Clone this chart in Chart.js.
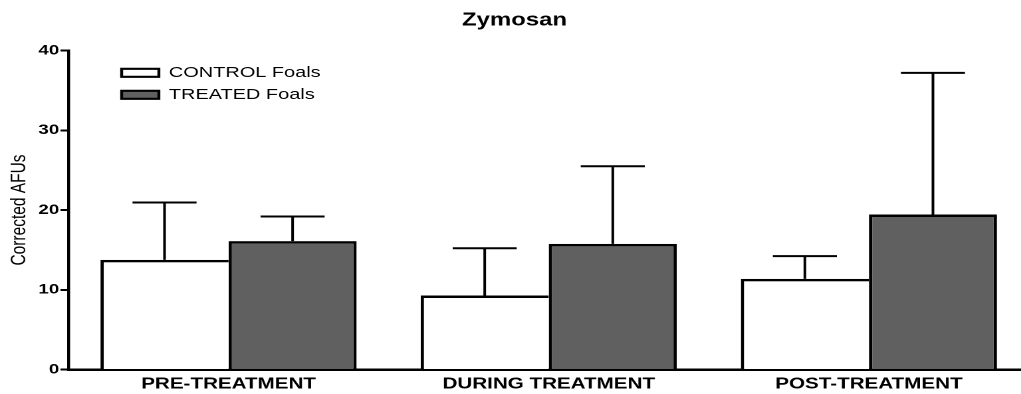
<!DOCTYPE html>
<html><head><meta charset="utf-8">
<script src="https://cdn.jsdelivr.net/npm/chart.js@4/dist/chart.umd.min.js"></script>
<style>
html,body{margin:0;padding:0;overflow:hidden;background:#fff;width:1021px;height:394px}
</style></head>
<body><canvas id="c" width="774" height="394" style="display:block;width:1029px;height:394px"></canvas>
<script>
const categories = ['PRE-TREATMENT', 'DURING TREATMENT', 'POST-TREATMENT'];
const seriesNames = ['CONTROL Foals', 'TREATED Foals'];
const controlMeans = [13.75, 9.28, 11.37];
const controlErrors = [7.19, 5.93, 2.84];
const treatedMeans = [16.09, 15.76, 19.44];
const treatedErrors = [3.09, 9.73, 17.76];
const yTicks = [0, 10, 20, 30, 40];
const chartTitle = 'Zymosan';
const yTitle = 'Corrected AFUs';

const FONT = "'Liberation Sans', Arial, Helvetica, sans-serif";
const errorSets = [controlErrors, treatedErrors];

const errorBars = {
  id: 'errorBars',
  afterDatasetsDraw(chart) {
    const ctx = chart.ctx, y = chart.scales.y;
    chart.data.datasets.forEach((ds, di) => {
      const meta = chart.getDatasetMeta(di);
      meta.data.forEach((bar, i) => {
        const top = y.getPixelForValue(ds.data[i] + errorSets[di][i]);
        const half = bar.width / 4;
        ctx.save();
        ctx.strokeStyle = '#000';
        ctx.lineWidth = 2;
        ctx.beginPath();
        ctx.moveTo(bar.x, bar.y);
        ctx.lineTo(bar.x, top);
        ctx.moveTo(bar.x - half, top);
        ctx.lineTo(bar.x + half, top);
        ctx.stroke();
        ctx.restore();
      });
    });
  }
};

const legendShift = {
  id: 'legendShift',
  afterLayout(chart) {
    if (chart.legend) {
      chart.legend.left = chart.chartArea.left + 33;
      chart.legend.top = chart.chartArea.top + 7.8;
    }
  }
};

new Chart(document.getElementById('c'), {
  type: 'bar',
  data: {
    labels: categories,
    datasets: [
      { label: seriesNames[0], data: controlMeans, backgroundColor: '#ffffff', borderColor: '#000',
        borderWidth: {left: 2.5, top: 2.5, right: 0, bottom: 0}, borderSkipped: false },
      { label: seriesNames[1], data: treatedMeans, backgroundColor: '#606060', borderColor: '#000',
        borderWidth: {left: 2.5, top: 2.5, right: 2.5, bottom: 0}, borderSkipped: false }
    ]
  },
  options: {
    responsive: false,
    devicePixelRatio: 2,
    animation: false,
    events: [],
    layout: { padding: { left: 0, right: 0, top: 0, bottom: 0 } },
    datasets: { bar: { categoryPercentage: 0.8, barPercentage: 1.0 } },
    plugins: {
      title: { display: true, text: chartTitle, color: '#000',
        font: { family: FONT, size: 18, weight: 'bold' }, padding: { top: 9.5, bottom: 19.4 } },
      legend: {
        display: true, position: 'chartArea', align: 'start',
        labels: {
          boxWidth: 28, boxHeight: 8, padding: 7, color: '#000',
          font: { family: FONT, size: 15 },
          generateLabels(chart) {
            const items = Chart.defaults.plugins.legend.labels.generateLabels(chart);
            items.forEach(it => { it.lineWidth = 2.2; it.strokeStyle = '#000'; });
            return items;
          }
        }
      },
      tooltip: { enabled: false }
    },
    scales: {
      x: {
        afterFit(scale) { scale.height = 24.5; },
        grid: { display: false, drawTicks: false },
        border: { display: true, color: '#000', width: 2.5 },
        ticks: { color: '#000', font: { family: FONT, size: 15.5, weight: 'bold' }, padding: 5.2,
          autoSkip: false, maxRotation: 0 }
      },
      y: {
        min: 0, max: 40,
        afterBuildTicks(scale) { scale.ticks = yTicks.map(v => ({ value: v })); },
        afterFit(scale) { scale.width = 51.5; },
        grid: { display: true, drawOnChartArea: false, drawTicks: true, tickLength: 6, tickWidth: 2, tickColor: '#000' },
        border: { display: true, color: '#000', width: 2.2 },
        ticks: { color: '#000', font: { family: FONT, size: 14, weight: 'bold' }, padding: 1 },
        title: { display: true, text: yTitle, color: '#000', font: { family: FONT, size: 15.5 },
          padding: { top: 5.2, bottom: 0 } }
      }
    }
  },
  plugins: [errorBars, legendShift]
});
</script>
</body></html>
